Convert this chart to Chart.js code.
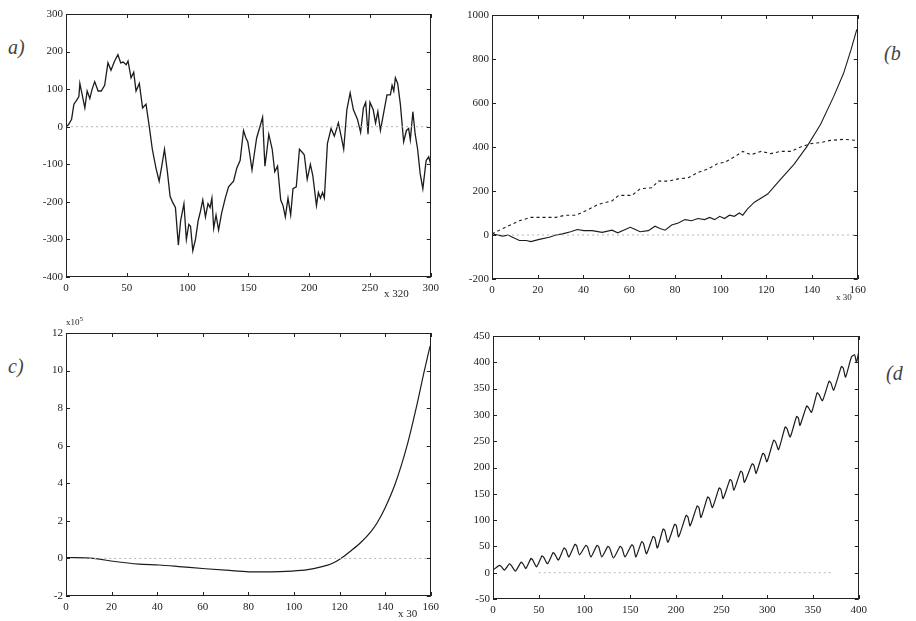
<!DOCTYPE html>
<html>
<head>
<meta charset="utf-8">
<script src="https://cdn.jsdelivr.net/npm/chart.js@4/dist/chart.umd.min.js"></script>
<style>
  body { margin: 0; background: #fff; overflow: hidden; }
  #page { position: relative; width: 916px; height: 621px; }
  .panel { position: absolute; }
  .tag { position: absolute; font-family: 'Liberation Serif', serif; font-style: italic; font-size: 20px; color: #444; }
  .note { position: absolute; font-family: 'Liberation Serif', serif; font-size: 11px; color: #222; white-space: nowrap; }
</style>
</head>
<body>
<div id="page">
  <div class="panel" style="left:26px;top:0px;width:418px;height:300px"><canvas id="chartA"></canvas></div>
  <div class="panel" style="left:452px;top:0px;width:419px;height:302px"><canvas id="chartB"></canvas></div>
  <div class="panel" style="left:26px;top:318px;width:418px;height:301px"><canvas id="chartC"></canvas></div>
  <div class="panel" style="left:453px;top:318px;width:419px;height:303px"><canvas id="chartD"></canvas></div>

  <div class="tag" style="left:8px;top:36px">a)</div>
  <div class="tag" style="left:884px;top:42px">(b</div>
  <div class="tag" style="left:8px;top:355px">c)</div>
  <div class="tag" style="left:886px;top:362px">(d</div>

  <div class="note" style="left:384px;top:287px">x 320</div>
  <div class="note" style="left:836px;top:292px;font-size:9px">x 30</div>
  <div class="note" style="left:66px;top:315px;font-size:9px">x10<sup style="font-size:7px">5</sup></div>
  <div class="note" style="left:398px;top:607px">x 30</div>
</div>

<script>
// ---- Datos ----
// (a) serie de 300 pasos
const aX = [0, 2, 4.6, 6.5, 8.7, 10.6, 11.4, 13, 15.5, 17.4,
  19.6, 21.5, 23.6, 26.4, 29, 31.8, 34.5, 37, 40, 42.7,
  45, 47, 49.5, 51, 53.5, 55.7, 57.6, 60.3, 63, 65.8,
  68.5, 71, 74, 76.6, 79, 81, 83.4, 85.6, 87.5, 90,
  92.4, 94.3, 97, 99, 101, 102.4, 104.3, 106.5, 108.7, 110.6,
  112.5, 114.7, 116.8, 118.5, 120, 121.5, 123.4, 125.5, 128, 131,
  133.7, 137.8, 140.5, 143.2, 146, 148, 149.5, 151, 153, 155,
  156.8, 159.5, 161.7, 163.6, 165, 166.8, 169.6, 171.7, 174, 176.6,
  178.5, 180.4, 182.6, 184.8, 186.7, 189.4, 192, 194.8, 196, 198.4,
  201, 203, 206, 207.6, 209.3, 211, 212.5, 215, 218, 220.7,
  224, 226.6, 228.4, 231, 233.7, 236.4, 239.7, 242.3, 244.6, 246.5,
  248.4, 250, 252.7, 254.6, 256.5, 258.6, 260.9, 264, 266.8, 268.2,
  269.6, 270.9, 272.8, 275, 277.7, 280, 281.8, 283.2, 285.3, 287.2,
  289.2, 291.3, 293.5, 296.2, 298.3, 300];
const aY = [0, 5, 20, 60, 70, 80, 115, 90, 50, 95,
  75, 100, 120, 95, 95, 110, 170, 150, 175, 192,
  170, 172, 165, 175, 130, 145, 95, 115, 50, 60,
  0, -60, -110, -145, -100, -60, -120, -185, -200, -215,
  -315, -250, -205, -300, -260, -265, -330, -300, -250, -225,
  -195, -240, -205, -215, -190, -270, -235, -275, -230, -190,
  -160, -145, -110, -90, -10, -30, -40, -70, -115, -70,
  -30, 0, 25, -105, -70, -20, -60, -120, -105, -195,
  -210, -240, -190, -235, -165, -160, -60, -70, -75, -140,
  -100, -130, -210, -175, -190, -175, -190, -45, -5, -25,
  10, -30, -60, 45, 90, 45, 20, -15, 50, 65,
  -20, 65, 45, 10, 40, -10, 30, 85, 85, 110,
  95, 130, 115, 60, -40, -10, -5, -35, 40, -20,
  -60, -125, -165, -90, -80, -100];

// (b) curva continua y curva punteada
const bSolidX = [0, 4.8, 7, 9, 12, 15, 17, 20.7, 25, 28,
  30.8, 34.4, 37.3, 40.2, 43.8, 48.2, 52.5, 55, 58.3, 60.5,
  62.7, 64.8, 68.4, 71.3, 73.5, 75.7, 78.6, 81.5, 84.4, 87.3,
  90.1, 93, 95.2, 97.4, 99.6, 101.7, 103.9, 106, 108.2, 109.7,
  111.9, 114.8, 120.6, 126.3, 132.1, 137.9, 143.7, 149.5, 153.8, 157,
  159.6];
const bSolidY = [5, -5, 0, -10, -25, -25, -30, -20, -10, 0,
  5, 15, 25, 20, 20, 12, 22, 10, 25, 35,
  25, 15, 20, 40, 30, 22, 45, 55, 70, 65,
  75, 70, 80, 70, 85, 75, 90, 85, 100, 90,
  120, 149, 186, 254, 321, 404, 502, 630, 735, 840,
  935];
const bDashX = [0, 4.8, 9, 12, 17, 22, 28, 32, 36.6, 41,
  46.7, 52.5, 55.4, 61.2, 64.8, 69.9, 72.8, 77.1, 81.5, 85.8,
  90.2, 94.5, 98.8, 101.7, 106, 109.7, 113.3, 117.7, 122, 126.3,
  130.7, 135, 139.3, 143.7, 148, 153.8, 159.6];
const bDashY = [5, 30, 50, 65, 80, 80, 80, 90, 90, 110,
  140, 155, 180, 180, 210, 215, 245, 245, 255, 260,
  285, 300, 325, 330, 355, 380, 365, 380, 370, 380,
  380, 400, 415, 420, 430, 435, 430];

// (c) curva suave, en unidades de 10^5
const cX = [0, 11.9, 20.6, 32, 40.9, 51, 61.2, 72.8, 81.4, 90,
  98.8, 106, 111.9, 116.2, 120.6, 124.9, 129.3, 133.6, 136.5, 140,
  144.5, 149.6, 153.6, 157.2, 159.7];
const cY = [0.05, 0, -0.15, -0.3, -0.35, -0.45, -0.55, -0.65, -0.72, -0.72,
  -0.68, -0.6, -0.45, -0.3, 0, 0.4, 0.85, 1.4, 1.9, 2.7,
  4.0, 6.0, 8.0, 10.0, 11.3];

// (d) serie con ciclo estacional (valle, pico, hombro)
const dX = [0, 7, 9, 12.6,
  18, 20, 24.5,  30.7, 32.7, 36,  41.5, 43.5, 47.7,  53.5, 55.5, 59.6,
  65.7, 67.7, 71.5,  77.6, 79.6, 83,  89.5, 91.5, 94.6,  101.5, 103.5, 107,
  113.7, 115.7, 119,  125.6, 127.6, 131.8,  139, 141, 144.4,  151.6, 153.6, 156.3,
  162.5, 164.5, 167.9,  175, 177, 179.8,  186, 188, 191.3,  198.6, 200.6, 203,
  211.2, 213.2, 215.6,  223.2, 225.2, 227.5,  234.7, 236.7, 240,  247.3, 249.3, 251.7,
  259.2, 261.2, 263.5,  270.8, 272.8, 275,  283.4, 285.4, 287.7,  295, 297, 299.6,
  306.9, 308.9, 312.3,  319.5, 321.5, 325,  332, 334, 335.7,  343, 345, 348.4,
  354.5, 356.5, 360.3,  367.5, 369.5, 372.6,  381, 383, 385.6,
  392, 395.5, 397.5, 400];
const dY = [5, 14, 12, 5,
  17, 14, 3,  20, 17, 8,  27, 24, 11,  32, 29, 17,
  38, 35, 24,  47, 44, 30,  54, 51, 34,  52, 49, 30,
  52, 49, 30,  50, 47, 28,  50, 47, 30,  53, 50, 30,
  59, 56, 36,  69, 66, 47,  83, 80, 58,  92, 89, 68,
  109, 106, 89,  127, 124, 105,  144, 141, 124,  161, 158, 141,
  177, 174, 157,  193, 190, 172,  207, 204, 189,  227, 224, 211,
  252, 249, 234,  277, 274, 258,  297, 294, 280,  317, 314, 305,
  342, 339, 327,  364, 361, 347,  392, 389, 372,
  410, 414, 400, 420];

// linea de cero punteada
const zeroA = [0, 300];
const zeroB = [0, 160];
const zeroC = [8, 160];
const zeroD = [50, 372];

// ---- Utilidades ----
const toPoints = (xs, ys) => xs.map((x, i) => ({ x: x, y: ys[i] }));
const INK = '#1c1c1c';

// Marco completo con marcas de escala hacia adentro (estilo MATLAB)
const boxTicks = {
  id: 'boxTicks',
  afterDraw(chart) {
    const { ctx, chartArea: a, scales } = chart;
    const line = (x1, y1, x2, y2) => { ctx.beginPath(); ctx.moveTo(x1, y1); ctx.lineTo(x2, y2); ctx.stroke(); };
    ctx.save();
    ctx.strokeStyle = '#222';
    ctx.lineWidth = 1;
    ctx.strokeRect(Math.round(a.left) + 0.5, Math.round(a.top) + 0.5, Math.round(a.width) - 1, Math.round(a.height) - 1);
    scales.x.ticks.forEach(t => {
      const px = Math.round(scales.x.getPixelForValue(t.value)) + 0.5;
      line(px, a.bottom, px, a.bottom - 4);
      line(px, a.top, px, a.top + 4);
    });
    scales.y.ticks.forEach(t => {
      const py = Math.round(scales.y.getPixelForValue(t.value)) + 0.5;
      line(a.left, py, a.left + 4, py);
      line(a.right, py, a.right - 4, py);
    });
    ctx.restore();
  }
};

function lineSet(points, opts) {
  return Object.assign({
    data: points,
    borderColor: INK,
    borderWidth: 1.3,
    pointRadius: 0,
    tension: 0,
    fill: false
  }, opts || {});
}

function zeroSet(range) {
  return lineSet(toPoints(range, [0, 0]), { borderColor: '#b5b5b5', borderWidth: 1, borderDash: [2, 3] });
}

function makeChart(id, datasets, xs, ys, padding) {
  const tickFont = { family: 'Liberation Serif', size: 11 };
  return new Chart(document.getElementById(id), {
    type: 'line',
    data: { datasets: datasets },
    options: {
      responsive: true,
      maintainAspectRatio: false,
      animation: false,
      layout: { padding: padding },
      plugins: { legend: { display: false }, tooltip: { enabled: false } },
      scales: {
        x: {
          type: 'linear', min: xs[0], max: xs[1],
          border: { display: false },
          grid: { display: false, drawTicks: false },
          ticks: { stepSize: xs[2], autoSkip: false, maxRotation: 0, padding: 5, color: '#222', font: tickFont,
                   callback: v => String(v) },
          afterFit: s => { s.height = 20; }
        },
        y: {
          type: 'linear', min: ys[0], max: ys[1],
          border: { display: false },
          grid: { display: false, drawTicks: false },
          ticks: { stepSize: ys[2], autoSkip: false, padding: 3, color: '#222', font: tickFont,
                   callback: v => String(v) },
          afterFit: s => { s.width = 40; }
        }
      }
    },
    plugins: [boxTicks]
  });
}

// ---- Graficas ----
makeChart('chartA',
  [zeroSet(zeroA), lineSet(toPoints(aX, aY))],
  [0, 300, 50], [-400, 300, 100],
  { top: 14, right: 10, bottom: 3, left: 0 });

makeChart('chartB',
  [zeroSet(zeroB),
   lineSet(toPoints(bDashX, bDashY), { borderWidth: 1.1, borderDash: [3, 3] }),
   lineSet(toPoints(bSolidX, bSolidY), { borderWidth: 1.1 })],
  [0, 160, 20], [-200, 1000, 200],
  { top: 15, right: 10, bottom: 3, left: 0 });

makeChart('chartC',
  [zeroSet(zeroC), lineSet(toPoints(cX, cY), { cubicInterpolationMode: 'monotone', borderWidth: 1.2 })],
  [0, 160, 20], [-2, 12, 2],
  { top: 15, right: 10, bottom: 3, left: 0 });

makeChart('chartD',
  [zeroSet(zeroD), lineSet(toPoints(dX, dY), { borderWidth: 1.2, tension: 0.2 })],
  [0, 400, 50], [-50, 450, 50],
  { top: 18, right: 10, bottom: 2, left: 0 });
</script>
</body>
</html>
